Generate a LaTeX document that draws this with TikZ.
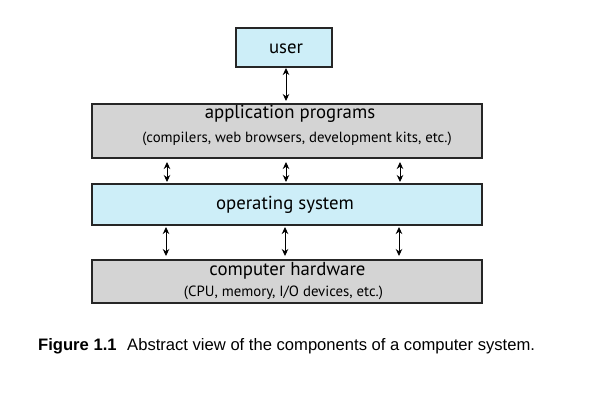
\documentclass[tikz,border=0pt]{standalone}
\usepackage{fontspec}
\setmainfont{PT Sans}
\newfontfamily\capfont{Liberation Sans}
\usetikzlibrary{arrows.meta}
\definecolor{boxblue}{HTML}{CDEEF8}
\definecolor{boxgray}{HTML}{D4D4D4}
\tikzset{
  x=1pt,y=-1pt,
  layerbox/.style={draw=black!85,line width=1.4pt,inner sep=0pt},
  link/.style={{Stealth[length=7pt,width=6.5pt]}-{Stealth[length=7pt,width=6.5pt]},line width=0.9pt},
  mainlbl/.style={font=\fontsize{18.8}{21}\selectfont,inner sep=0pt,anchor=base},
  sublbl/.style={font=\fontsize{14.8}{17}\selectfont,inner sep=0pt,anchor=base},
  caplbl/.style={font=\capfont\fontsize{16.6}{19}\selectfont,inner sep=0pt,anchor=base west},
}
\begin{document}
\begin{tikzpicture}
\useasboundingbox (0,0) rectangle (596,413);
% boxes
\path[layerbox,fill=boxblue] (236,28) rectangle (332,67);
\path[layerbox,fill=boxgray] (92,104) rectangle (482,158);
\path[layerbox,fill=boxblue] (92,184) rectangle (482,225);
\path[layerbox,fill=boxgray] (92,260) rectangle (482,303);
\node (user) at (284,47.5) [minimum width=96pt,minimum height=39pt] {};
\node (app) at (287,131) [minimum width=390pt,minimum height=54pt] {};
\node (os) at (287,204.5) [minimum width=390pt,minimum height=41pt] {};
\node (hw) at (287,281.5) [minimum width=390pt,minimum height=43pt] {};
% labels
\node[mainlbl] (tuser) at (286,53) {user};
\node[mainlbl] (tapp) at (290,118) {application programs};
\node[sublbl] (sapp) at (297,142) {(compilers, web browsers, development kits, etc.)};
\node[mainlbl] (tos) at (285,209) {operating system};
\node[mainlbl] (thw) at (287.5,275) {computer hardware};
\node[sublbl] (shw) at (283.5,296) {(CPU, memory, I/O devices, etc.)};
% connectors
\coordinate (u1) at (286,68); \coordinate (u2) at (286,101);
\draw[link] (u1) -- (u2);
\foreach \x/\i in {167/1,286/2,400/3}{
  \coordinate (a\i) at (\x,162); \coordinate (b\i) at (\x,182);
  \draw[link] (a\i) -- (b\i);
}
\foreach \x/\i in {166/1,285/2,399/3}{
  \coordinate (c\i) at (\x,227); \coordinate (d\i) at (\x,256);
  \draw[link] (c\i) -- (d\i);
}
% caption
\node[caplbl] (capnum) at (38,350) {\textbf{Figure 1.1}};
\node[caplbl] (captext) at (127,350) {Abstract view of the components of a computer system.};
\end{tikzpicture}
\end{document}
